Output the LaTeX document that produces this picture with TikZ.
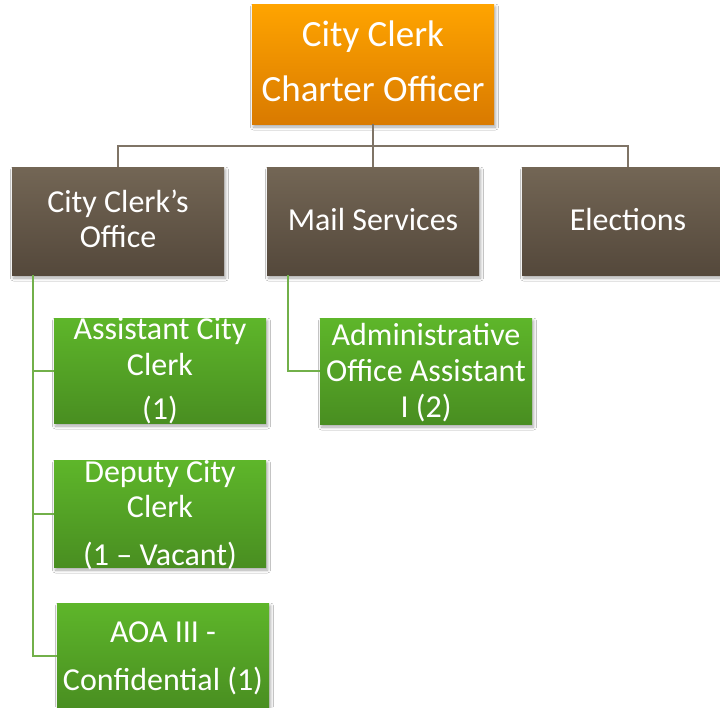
\documentclass[tikz,border=0pt]{standalone}
\usepackage{fontspec}
\setmainfont{Carlito}
\usetikzlibrary{shadows.blur}
\definecolor{orgtop}{HTML}{FFA400}
\definecolor{orgbot}{HTML}{D97A00}
\definecolor{brtop}{HTML}{736655}
\definecolor{brbot}{HTML}{54483B}
\definecolor{grtop}{HTML}{5EB62A}
\definecolor{grbot}{HTML}{498E21}
\definecolor{brline}{HTML}{7F7466}
\definecolor{grline}{HTML}{72B04A}
\newcommand{\mystrut}{\rule[-0.25em]{0pt}{1.05em}}
\tikzset{
  box/.style={rectangle, inner sep=0pt, draw=none,
    blur shadow={shadow xshift=1.5pt, shadow yshift=-3pt, shadow blur steps=6, shadow opacity=35, shadow blur radius=3pt}},
  orangebox/.style={box, top color=orgtop, bottom color=orgbot},
  brownbox/.style={box, top color=brtop, bottom color=brbot, minimum width=212pt, minimum height=108pt},
  greenbox/.style={box, top color=grtop, bottom color=grbot, minimum width=212pt},
  txt/.style={text=white, align=center, inner sep=0pt, font=\fontsize{32}{35}\selectfont},
  conn/.style={draw=brline, line width=2pt},
  gconn/.style={draw=grline, line width=2pt}
}
\begin{document}
\begin{tikzpicture}[x=1pt,y=-1pt]
\useasboundingbox (0,0) rectangle (720,707);
\clip (0,0) rectangle (720,707);
\fill[white] (0,0) rectangle (720,707);
\coordinate (bus) at (373,146);
% boxes
\node[orangebox, minimum width=242pt, minimum height=120pt] (top) at (373,64) {};
\node[brownbox] (ccoff) at (118,221) {};
\node[brownbox] (mail) at (373,221) {};
\node[brownbox] (elec) at (628,221) {};
\node[greenbox, minimum height=105pt] (acc) at (160,370.5) {};
\node[greenbox, minimum height=107pt] (dep) at (160,513.5) {};
\node[greenbox, minimum height=106pt] (aoa) at (163,656) {};
\node[greenbox, minimum height=106pt] (adm) at (426,371) {};
% connector lines
\draw[conn] (top.south) -- (mail.north);
\draw[conn] (ccoff.north) |- (bus) -| (elec.north);
\draw[gconn] (ccoff.south west) ++(21,0) |- (acc.west);
\draw[gconn] (ccoff.south west) ++(21,0) |- (dep.west);
\draw[gconn] (ccoff.south west) ++(21,0) |- (aoa.west);
\draw[gconn] (mail.south west) ++(21,0) |- (adm.west);
% texts
\node[txt, font=\fontsize{37}{55}\selectfont] (topt) at (373,63.5) {\mystrut City Clerk\\\mystrut Charter Officer};
\node[txt] (ccofft) at (118,221.5) {\mystrut City Clerk’s\\\mystrut Office};
\node[txt] (mailt) at (373,222) {\mystrut Mail Services};
\node[txt] (elect) at (628,222) {\mystrut Elections};
\node[txt, font=\fontsize{32}{36}\selectfont] (acct) at (160,370.5) {\mystrut Assistant City\\\mystrut Clerk\\[8pt]\mystrut (1)};
\node[txt] (dept) at (160,515) {\mystrut Deputy City\\\mystrut Clerk\\[13pt]\mystrut (1 – Vacant)};
\node[txt, font=\fontsize{32}{48}\selectfont] (aoat) at (163,657.5) {\mystrut AOA III -\\\mystrut Confidential (1)};
\node[txt, font=\fontsize{32}{36}\selectfont] (admt) at (426,372.5) {\mystrut Administrative\\\mystrut Office Assistant\\\mystrut I (2)};
\end{tikzpicture}
\end{document}
